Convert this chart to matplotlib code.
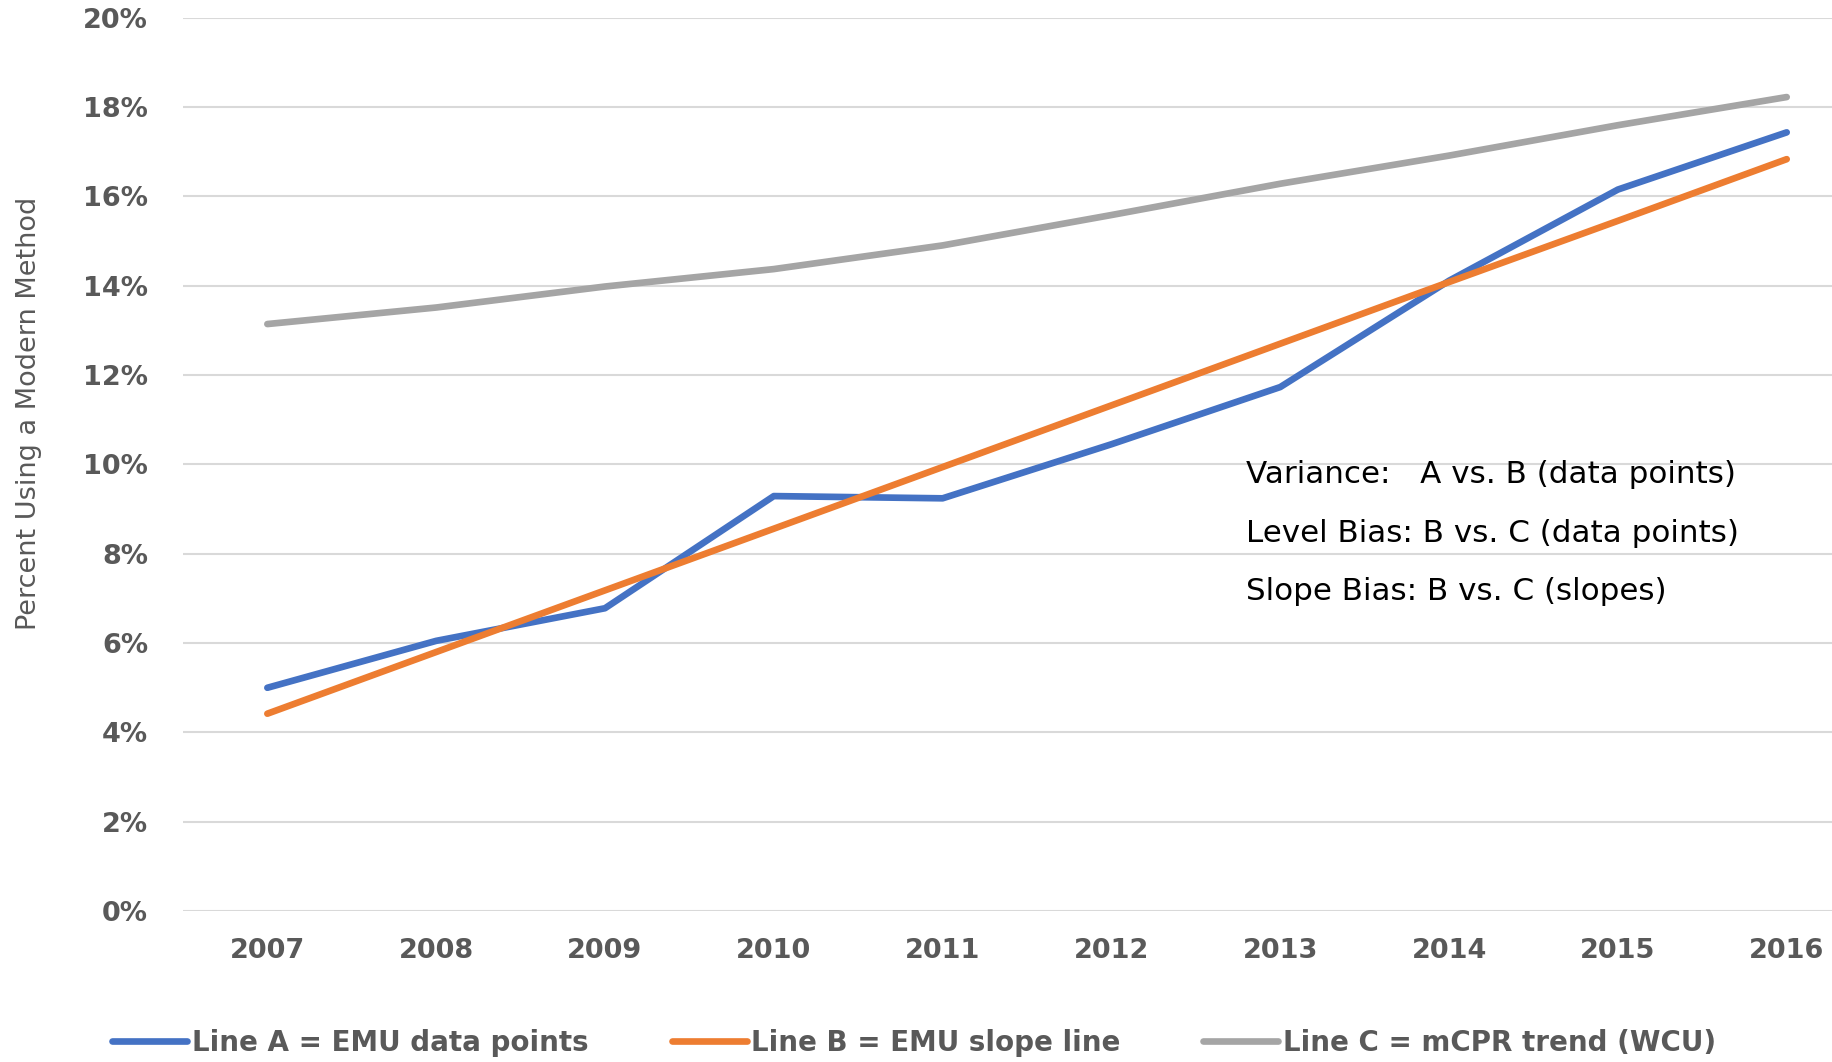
import matplotlib
matplotlib.use("Agg")
import matplotlib.pyplot as plt
from matplotlib.ticker import PercentFormatter

# données (en %)
years = ['2007', '2008', '2009', '2010', '2011', '2012', '2013', '2014', '2015', '2016']
line_a = [5.00, 6.05, 6.78, 9.29, 9.24, 10.45, 11.73, 14.11, 16.15, 17.43]
line_b = [4.42, 5.80, 7.18, 8.56, 9.94, 11.32, 12.70, 14.08, 15.45, 16.83]
line_c = [13.14, 13.51, 13.98, 14.37, 14.90, 15.58, 16.28, 16.91, 17.59, 18.22]
labels = ['Line A = EMU data points', 'Line B = EMU slope line', 'Line C = mCPR trend (WCU)']
notes = ['Variance:   A vs. B (data points)',
         'Level Bias: B vs. C (data points)',
         'Slope Bias: B vs. C (slopes)']

colors = ['#4472C4', '#ED7D31', '#A5A5A5']
text_grey = '#595959'

fig = plt.figure(figsize=(18.33, 10.62), dpi=100)
ax = fig.add_axes([0.0998, 0.142, 0.921, 0.8415])

x = range(len(years))
for vals, col, lab in zip([line_a, line_b, line_c], colors, labels):
    ax.plot(x, vals, color=col, lw=4.8, solid_capstyle='round', label=lab)

ax.set_xlim(-0.5, len(years) - 0.5)
ax.set_ylim(0, 20)
ax.set_yticks(range(0, 21, 2))
ax.yaxis.set_major_formatter(PercentFormatter(decimals=0))
ax.set_xticks(list(x))
ax.set_xticklabels(years)

ax.grid(axis='y', color='#d9d9d9', lw=1.5)
ax.set_axisbelow(True)
for s in ax.spines.values():
    s.set_visible(False)
ax.tick_params(length=0)
ax.tick_params(axis='y', pad=25, labelsize=19.5, labelcolor=text_grey)
ax.tick_params(axis='x', pad=19, labelsize=19.5, labelcolor=text_grey)
for t in ax.get_xticklabels() + ax.get_yticklabels():
    t.set_fontweight('bold')

fig.text(0.016, 0.611, 'Percent Using a Modern Method', rotation=90,
         ha='center', va='center', fontsize=19.5, color=text_grey, fontweight='medium')

# texte explicatif
for txt, yy in zip(notes, [0.553, 0.498, 0.4435]):
    fig.text(0.680, yy, txt, fontsize=22.3, color='black', va='center', ha='left')

leg = fig.legend(loc='center', bbox_to_anchor=(0.4987, 0.018), ncol=3, frameon=False,
                 fontsize=20, handlelength=2.7, handletextpad=0.15, columnspacing=3.0)
for t in leg.get_texts():
    t.set_color(text_grey)
    t.set_fontweight('bold')

plt.savefig('out.png', dpi=100)
